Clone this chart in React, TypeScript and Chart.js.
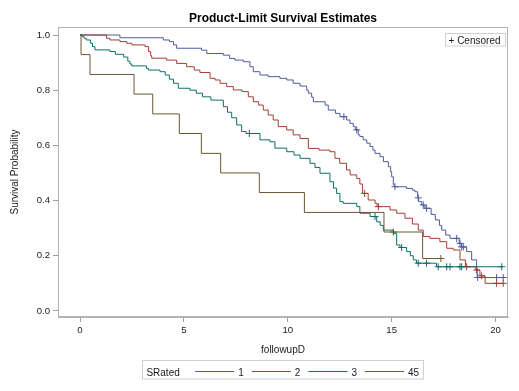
import React, { useEffect, useRef } from 'react';
import { Chart, registerables } from 'chart.js';

Chart.register(...registerables);

const chartTitle = 'Product-Limit Survival Estimates';
const xTitle = 'followupD';
const yTitle = 'Survival Probability';
const legendTitle = 'SRated';
const censorLabel = 'Censored';
const groupLabels = ['1', '2', '3', '45'];
const groupColors = ['#4f5b9c', '#a23e34', '#0f6f66', '#6a5634'];
const xTickValues = [0, 5, 10, 15, 20];
const yTickValues = [0, 0.2, 0.4, 0.6, 0.8, 1.0];

// Group 1
const g1Times = [0, 1.92, 4.01, 4.3, 4.5, 4.65, 5.85, 6.1, 6.9, 7.2, 7.46, 7.86, 8.18, 8.34, 8.66, 9.06, 9.62, 9.95, 10.26, 10.59, 10.91, 10.99, 11.15, 11.23, 11.8, 11.95, 12.3, 12.51, 12.83, 12.99, 13.15, 13.25, 13.39, 13.47, 13.63, 13.8, 13.96, 14.1, 14.2, 14.44, 14.6, 14.84, 14.95, 15.0, 15.08, 15.12, 15.72, 16.0, 16.12, 16.25, 16.3, 16.45, 16.6, 16.9, 17.1, 17.3, 17.41, 17.6, 17.81, 18.25, 18.35, 18.61, 18.85, 19.09, 19.12];
const g1Surv = [1, 0.99, 0.982, 0.976, 0.964, 0.952, 0.945, 0.933, 0.927, 0.915, 0.909, 0.903, 0.885, 0.867, 0.855, 0.849, 0.843, 0.837, 0.825, 0.815, 0.8, 0.789, 0.775, 0.758, 0.746, 0.728, 0.716, 0.704, 0.692, 0.68, 0.668, 0.656, 0.638, 0.632, 0.62, 0.608, 0.596, 0.583, 0.571, 0.559, 0.541, 0.523, 0.505, 0.486, 0.457, 0.45, 0.444, 0.438, 0.432, 0.41, 0.396, 0.384, 0.372, 0.35, 0.33, 0.31, 0.293, 0.275, 0.263, 0.245, 0.232, 0.215, 0.185, 0.155, 0.121];
const g1Censor = [12.7, 13.32, 15.16, 16.28, 16.52, 16.68, 18.13, 18.29, 18.37, 18.45, 19.14, 20.05, 20.37];
const g1End = 20.37;

// Group 2
const g2Times = [0, 1.28, 1.44, 1.92, 2.25, 2.49, 3.13, 3.3, 3.4, 3.45, 4.17, 4.65, 5.13, 5.5, 5.77, 6.26, 6.5, 6.74, 7.06, 7.38, 7.8, 8.1, 8.34, 8.6, 8.82, 9.06, 9.3, 9.54, 9.95, 10.26, 10.59, 10.99, 11.5, 12.03, 12.27, 12.5, 12.83, 13.0, 13.32, 13.47, 13.6, 13.87, 14.2, 14.3, 14.92, 15.24, 15.64, 16.0, 16.28, 16.52, 16.84, 17.32, 17.65, 17.96, 18.29, 18.55, 19.05, 19.25, 19.5];
const g2Surv = [1, 0.988, 0.982, 0.976, 0.97, 0.964, 0.958, 0.94, 0.925, 0.916, 0.909, 0.897, 0.885, 0.873, 0.864, 0.843, 0.837, 0.825, 0.813, 0.801, 0.795, 0.776, 0.758, 0.746, 0.728, 0.71, 0.692, 0.668, 0.656, 0.638, 0.625, 0.589, 0.583, 0.577, 0.553, 0.535, 0.511, 0.493, 0.48, 0.46, 0.426, 0.402, 0.39, 0.378, 0.366, 0.354, 0.336, 0.315, 0.293, 0.27, 0.263, 0.251, 0.227, 0.221, 0.185, 0.16, 0.148, 0.127, 0.1];
const g2Censor = [13.7, 14.36, 18.61, 19.09, 19.33, 20.05, 20.37];
const g2End = 20.37;

// Group 3
const g3Times = [0, 0.1, 0.2, 0.3, 0.5, 0.6, 0.72, 1.44, 1.7, 2.1, 2.3, 2.4, 2.49, 3.2, 3.29, 3.85, 4.1, 4.3, 4.5, 4.73, 5.29, 5.6, 5.9, 6.3, 6.9, 7.1, 7.3, 7.54, 7.78, 8.0, 8.66, 9.14, 9.38, 9.95, 10.3, 10.59, 11.07, 11.31, 11.55, 12.03, 12.2, 12.35, 12.51, 12.67, 13.32, 13.47, 13.96, 14.28, 14.45, 14.6, 15.08, 15.24, 15.4, 15.72, 15.9, 16.04, 16.2, 17.16];
const g3Surv = [1, 0.994, 0.988, 0.982, 0.97, 0.958, 0.946, 0.94, 0.93, 0.92, 0.905, 0.895, 0.888, 0.879, 0.873, 0.867, 0.855, 0.84, 0.825, 0.807, 0.8, 0.789, 0.776, 0.764, 0.74, 0.72, 0.7, 0.674, 0.65, 0.643, 0.62, 0.613, 0.59, 0.577, 0.565, 0.553, 0.535, 0.52, 0.499, 0.468, 0.445, 0.426, 0.396, 0.39, 0.378, 0.354, 0.342, 0.323, 0.31, 0.293, 0.281, 0.239, 0.23, 0.215, 0.2, 0.185, 0.173, 0.16];
const g3Censor = [8.15, 14.2, 15.48, 16.28, 16.68, 17.24, 17.65, 17.81, 18.29, 18.37, 20.3];
const g3End = 20.34;

// Group 45
const g4Times = [0, 0.05, 0.48, 2.6, 3.5, 4.78, 5.84, 6.77, 8.63, 10.8, 14.63, 16.49];
const g4Surv = [1, 0.929, 0.857, 0.786, 0.714, 0.643, 0.571, 0.5, 0.429, 0.357, 0.286, 0.19];
const g4Censor = [15.08, 17.37];
const g4End = 17.37;

const groupTimes = [g1Times, g2Times, g3Times, g4Times];
const groupSurv = [g1Surv, g2Surv, g3Surv, g4Surv];
const groupCensor = [g1Censor, g2Censor, g3Censor, g4Censor];
const groupEnd = [g1End, g2End, g3End, g4End];

const FONT = '"Liberation Sans", Arial, sans-serif';
const TEXT = '#1a1a1a';

function survAt(times: number[], surv: number[], t: number) {
  let s = surv[0];
  for (let i = 0; i < times.length; i++) {
    if (times[i] <= t) s = surv[i];
  }
  return s;
}

const decorPlugin = {
  id: 'decor',
  afterDraw(chart: any) {
    const { ctx, chartArea } = chart;
    const { left, right, top, bottom } = chartArea;
    ctx.save();
    // frame
    ctx.strokeStyle = '#b4b4b4';
    ctx.lineWidth = 1;
    ctx.strokeRect(Math.round(left) + 0.5, Math.round(top) + 0.5, Math.round(right - left) - 1, Math.round(bottom - top) - 1);

    // title
    ctx.fillStyle = '#000';
    ctx.font = `bold 12px ${FONT}`;
    ctx.textAlign = 'center';
    ctx.textBaseline = 'alphabetic';
    ctx.fillText(chartTitle, (left + right) / 2, 22);

    // censored legend (top right)
    ctx.font = `10px ${FONT}`;
    ctx.textAlign = 'left';
    const cw = ctx.measureText('+ ' + censorLabel).width;
    const bx1 = right - 3.5;
    const bx0 = bx1 - cw - 8;
    ctx.strokeStyle = '#d0d0d0';
    ctx.strokeRect(Math.round(bx0) + 0.5, 33.5, Math.round(bx1 - bx0), 12.5);
    ctx.fillStyle = TEXT;
    ctx.fillText('+ ' + censorLabel, bx0 + 4, 43.5);

    // bottom legend
    ctx.font = `10px ${FONT}`;
    const titleW = ctx.measureText(legendTitle).width;
    const lineLen = 39;
    let total = 4 + titleW + 15.5;
    const labelW = groupLabels.map((l) => ctx.measureText(l).width);
    groupLabels.forEach((_, i) => {
      total += lineLen + 4 + labelW[i] + (i < groupLabels.length - 1 ? 8 : 4.5);
    });
    const cx = (left + right) / 2;
    const lx0 = cx - total / 2;
    ctx.strokeStyle = '#d0d0d0';
    ctx.strokeRect(Math.round(lx0) + 0.5, 360.5, Math.round(total), 18.5);
    ctx.fillStyle = TEXT;
    let x = lx0 + 4;
    ctx.fillText(legendTitle, x, 375.5);
    x += titleW + 15.5;
    groupLabels.forEach((l, i) => {
      ctx.strokeStyle = groupColors[i];
      ctx.beginPath();
      ctx.moveTo(x, 371.5);
      ctx.lineTo(x + lineLen, 371.5);
      ctx.stroke();
      x += lineLen + 4;
      ctx.fillStyle = TEXT;
      ctx.fillText(l, x, 375.5);
      x += labelW[i] + 8;
    });
    ctx.restore();
  },
};

export default function App() {
  const ref = useRef<HTMLCanvasElement | null>(null);
  useEffect(() => {
    if (!ref.current) return;
    const datasets: any[] = [];
    groupLabels.forEach((label, i) => {
      const times = groupTimes[i];
      const surv = groupSurv[i];
      const pts = times.map((t, k) => ({ x: t, y: surv[k] }));
      pts.push({ x: groupEnd[i], y: surv[surv.length - 1] });
      datasets.push({
        type: 'line',
        label,
        data: pts,
        stepped: true,
        borderColor: groupColors[i],
        borderWidth: 1,
        pointRadius: 0,
        fill: false,
        order: 10 - i,
      });
    });
    groupLabels.forEach((label, i) => {
      datasets.push({
        type: 'scatter',
        label: label + ' censored',
        data: groupCensor[i].map((t) => ({ x: t, y: survAt(groupTimes[i], groupSurv[i], t) })),
        pointStyle: 'cross',
        pointRadius: 3.5,
        pointBorderWidth: 1,
        borderColor: groupColors[i],
        backgroundColor: groupColors[i],
        showLine: false,
        order: 5 - i,
      });
    });

    const chart = new Chart(ref.current, {
      type: 'line',
      data: { datasets },
      options: {
        animation: false,
        responsive: true,
        maintainAspectRatio: false,
        layout: { padding: { left: 0, right: 11, top: 27, bottom: 0 } },
        plugins: {
          legend: { display: false },
          tooltip: { enabled: false },
          title: { display: false },
        },
        scales: {
          x: {
            type: 'linear',
            min: -1.06,
            max: 20.6,
            afterFit: (s: any) => {
              s.height = 74;
            },
            afterBuildTicks: (s: any) => {
              s.ticks = xTickValues.map((v) => ({ value: v }));
            },
            ticks: {
              font: { family: FONT, size: 9.6 },
              color: TEXT,
              padding: 3,
              maxRotation: 0,
              callback: (v: any) => String(v),
            },
            grid: { drawOnChartArea: false, drawTicks: true, tickLength: 5, color: '#a0a0a0' },
            border: { display: true, color: '#b4b4b4' },
            title: {
              display: true,
              text: xTitle,
              font: { family: FONT, size: 10 },
              color: TEXT,
              padding: { top: 0, bottom: 35 },
            },
          },
          y: {
            type: 'linear',
            min: -0.022,
            max: 1.029,
            afterFit: (s: any) => {
              s.width = 58;
            },
            afterBuildTicks: (s: any) => {
              s.ticks = yTickValues.map((v) => ({ value: v }));
            },
            ticks: {
              font: { family: FONT, size: 9.6 },
              color: TEXT,
              padding: 3,
              callback: (v: any) => Number(v).toFixed(1),
            },
            grid: { drawOnChartArea: false, drawTicks: true, tickLength: 5, color: '#a0a0a0' },
            border: { display: true, color: '#b4b4b4' },
            title: {
              display: true,
              text: yTitle,
              font: { family: FONT, size: 10 },
              color: TEXT,
              padding: { top: 9, bottom: 0 },
            },
          },
        },
      },
      plugins: [decorPlugin],
    } as any);
    return () => chart.destroy();
  }, []);

  return (
    <div style={{ position: 'absolute', left: 0, top: 0, width: 519, height: 391, background: '#fff' }}>
      <canvas ref={ref} />
    </div>
  );
}
